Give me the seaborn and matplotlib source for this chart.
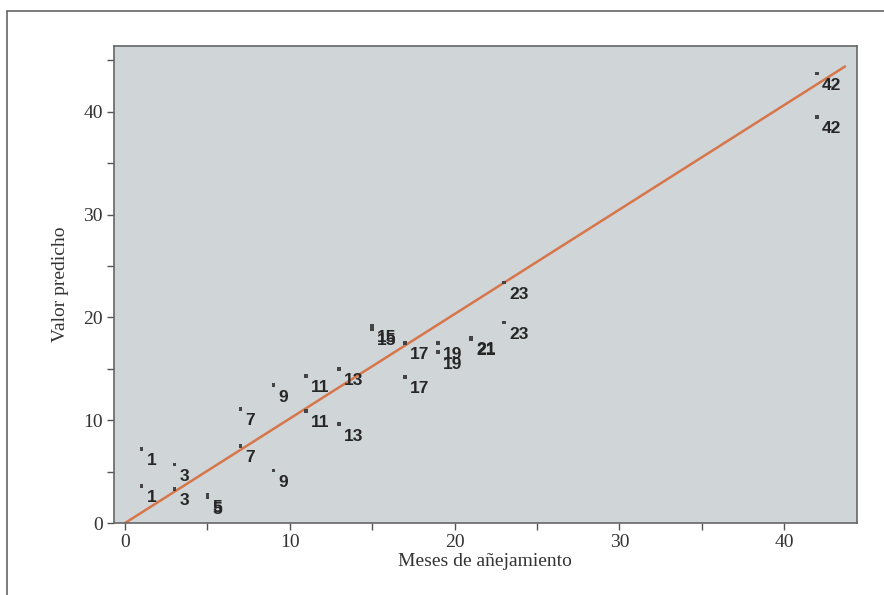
import pandas as pd
import matplotlib
matplotlib.use("Agg")
import matplotlib.pyplot as plt
import seaborn as sns

# meses reales (etiqueta de cada punto) y valor predicho
meses = [1, 1, 3, 3, 5, 5, 7, 7, 9, 9, 11, 11, 13, 13, 15, 15,
         17, 17, 19, 19, 21, 21, 23, 23, 42, 42]
predicho = [7.2, 3.6, 5.7, 3.3, 2.7, 2.5, 11.1, 7.5, 13.4, 5.1, 14.3, 10.9,
            15.0, 9.6, 19.2, 18.9, 17.5, 14.2, 17.5, 16.6, 18.0, 17.9,
            23.4, 19.5, 43.7, 39.5]
etiquetas = [str(m) for m in meses]

# recta de ajuste
recta_x = [0, 43.7]
recta_y = [0, 44.4]

df = pd.DataFrame({"meses": meses, "predicho": predicho, "etiqueta": etiquetas})
df_recta = pd.DataFrame({"x": recta_x, "y": recta_y})

sns.set_style("white")
plt.rcParams["font.family"] = ["Liberation Serif", "DejaVu Serif"]

fig = plt.figure(figsize=(8.84, 5.95), dpi=100)
ax = fig.add_axes([0.129, 0.121, 0.840, 0.801])
ax.set_facecolor("#d0d5d8")

sns.lineplot(data=df_recta, x="x", y="y", ax=ax, color="#d6764a", linewidth=1.8)
sns.scatterplot(data=df, x="meses", y="predicho", ax=ax, color="#444444",
                s=7, marker="s", edgecolor="none", zorder=3)

for _, r in df.iterrows():
    ax.annotate(r["etiqueta"], (r["meses"], r["predicho"]),
                xytext=(3.5, -8.5), textcoords="offset points",
                ha="left", va="center", fontsize=12.5, fontweight="bold",
                color="#262626", family=["Liberation Sans", "DejaVu Sans"])

ax.set_xlim(-0.67, 44.4)
ax.set_ylim(0, 46.35)
ax.set_xticks([0, 5, 10, 15, 20, 25, 30, 35, 40])
ax.set_xticklabels(["0", "", "10", "", "20", "", "30", "", "40"])
ax.set_yticks([0, 5, 10, 15, 20, 25, 30, 35, 40, 45])
ax.set_yticklabels(["0", "", "10", "", "20", "", "30", "", "40", ""])
ax.tick_params(axis="both", direction="out", length=5, width=1,
               color="#555555", labelsize=14, labelcolor="#333333", pad=3)
ax.xaxis.set_ticks_position("bottom")
ax.yaxis.set_ticks_position("left")

for sp in ax.spines.values():
    sp.set_visible(True)
    sp.set_color("#666666")
    sp.set_linewidth(1.2)

ax.set_xlabel("Meses de añejamiento", fontsize=14, color="#333333", labelpad=1)
ax.set_ylabel("Valor predicho", fontsize=14, color="#333333", labelpad=10)

# marco exterior (solo arriba e izquierda visibles)
fig.add_artist(plt.Line2D([0.008, 0.008], [0.0, 0.982], color="#666666", linewidth=1.2))
fig.add_artist(plt.Line2D([0.008, 1.0], [0.982, 0.982], color="#666666", linewidth=1.2))

fig.savefig("out.png", dpi=100)
plt.close(fig)
